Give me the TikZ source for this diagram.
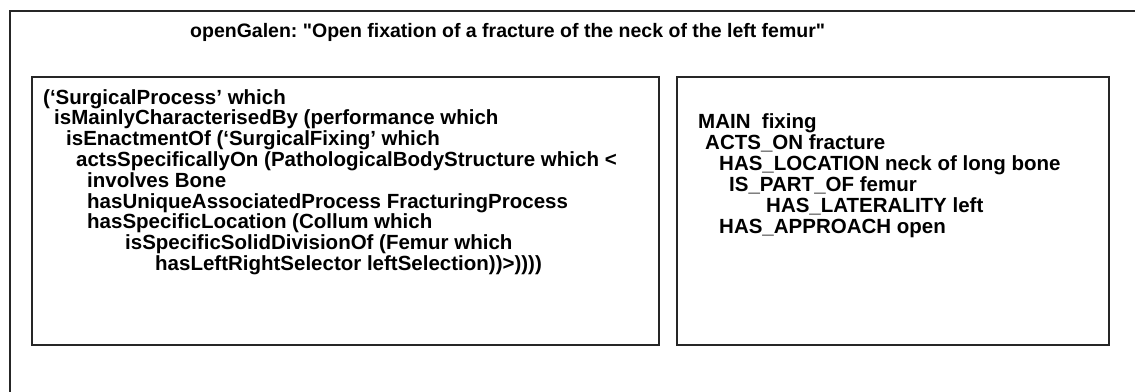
\documentclass[tikz,border=0pt]{standalone}
\usepackage{fontspec}
\setmainfont{Liberation Sans}
% same face without the TeX quote mapping, so " stays a straight quote
\newfontfamily\plainsans{Liberation Sans}
\frenchspacing
\begin{document}
\begin{tikzpicture}[x=1pt,y=-1pt,
  frame/.style={draw=black!85, line width=1.6pt},
  panel/.style={draw=black!85, line width=1.6pt, anchor=north west, inner sep=0pt},
  txt/.style={anchor=base west, inner sep=0pt, font=\fontsize{20.5}{21}\selectfont\bfseries},
  head/.style={anchor=base west, inner sep=0pt, font=\plainsans\fontsize{19.5}{21}\selectfont\bfseries}]
\useasboundingbox (0,0) rectangle (1135,391);
% outer frame, running off the page at the right and bottom
\coordinate (fb) at (10,392);
\coordinate (ft) at (10,11);
\coordinate (fr) at (1136,11);
\draw[frame] (fb) -- (ft) -- (fr);
% title
\node[head] (title) at (190,37) {openGalen: "Open fixation of a fracture of the neck of the left femur"};
% the two panels
\node[panel, minimum width=627pt, minimum height=268pt] (lbox) at (31,76) {};
\node[panel, minimum width=432pt, minimum height=268pt] (rbox) at (676,76) {};
% GRAIL expression
\node[txt] (l1) at (43,104.0) {(‘SurgicalProcess’ which};
\node[txt] (l2) at (54,124.8) {isMainlyCharacterisedBy (performance which};
\node[txt] (l3) at (66,145.6) {isEnactmentOf (‘SurgicalFixing’ which};
\node[txt] (l4) at (76,166.4) {actsSpecificallyOn (PathologicalBodyStructure which <};
\node[txt] (l5) at (87,187.2) {involves Bone};
\node[txt] (l6) at (87,208.0) {hasUniqueAssociatedProcess FracturingProcess};
\node[txt] (l7) at (87,228.8) {hasSpecificLocation (Collum which};
\node[txt] (l8) at (125,249.6) {isSpecificSolidDivisionOf (Femur which};
\node[txt] (l9) at (155,270.4) {hasLeftRightSelector leftSelection))>))))};
% compact form
\node[txt] (r1) at (698,128) {MAIN~ fixing};
\node[txt] (r2) at (705,149) {ACTS\_ON fracture};
\node[txt] (r3) at (719,170) {HAS\_LOCATION neck of long bone};
\node[txt] (r4) at (729,191) {IS\_PART\_OF femur};
\node[txt] (r5) at (766,212) {HAS\_LATERALITY left};
\node[txt] (r6) at (719,233) {HAS\_APPROACH open};
\end{tikzpicture}
\end{document}
